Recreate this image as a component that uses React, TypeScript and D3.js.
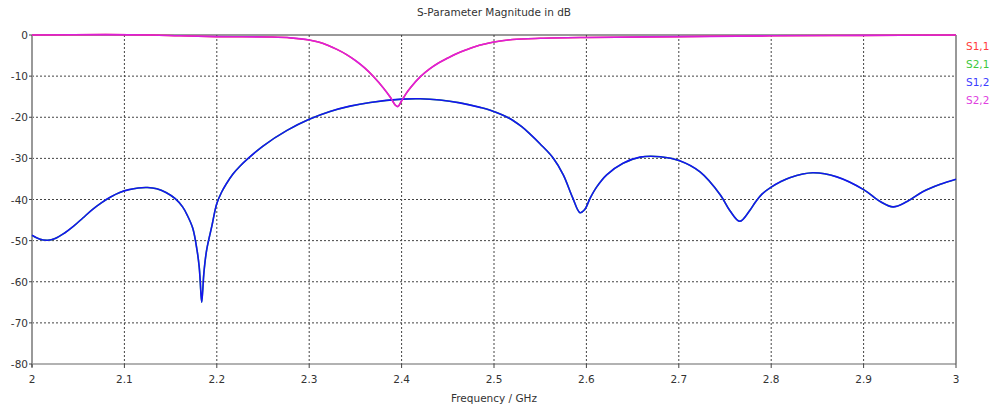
import React from "react";
import * as d3 from "d3";

const freqS12 = [2.0, 2.008, 2.017, 2.025, 2.035, 2.045, 2.055, 2.065, 2.075, 2.085, 2.095, 2.105, 2.115, 2.125, 2.135, 2.145, 2.155, 2.163, 2.168, 2.174, 2.1786, 2.181, 2.182, 2.1836, 2.1848, 2.186, 2.189, 2.1945, 2.2, 2.205, 2.21, 2.2175, 2.225, 2.233, 2.25, 2.276, 2.3, 2.3225, 2.344, 2.366, 2.4, 2.42, 2.4416, 2.463, 2.485, 2.496, 2.517, 2.53, 2.54, 2.55, 2.564, 2.575, 2.585, 2.593, 2.598, 2.604, 2.611, 2.622, 2.6396, 2.658, 2.68, 2.701, 2.723, 2.745, 2.755, 2.766, 2.777, 2.783, 2.79, 2.8, 2.81, 2.82, 2.845, 2.871, 2.9, 2.918, 2.932, 2.947, 2.964, 2.983, 3.0];
const dbS12 = [-48.7, -49.6, -49.9, -49.5, -48.2, -46.5, -44.5, -42.5, -40.8, -39.4, -38.3, -37.6, -37.2, -37.1, -37.4, -38.3, -39.8, -41.8, -43.8, -47.0, -52.3, -56.5, -59.6, -65.0, -62.0, -57.9, -52.3, -46.6, -41.0, -38.3, -36.3, -33.8, -31.9, -30.2, -27.0, -23.2, -20.5, -18.6, -17.3, -16.4, -15.6, -15.5, -15.8, -16.5, -17.6, -18.3, -20.3, -22.3, -24.3, -26.5, -29.9, -34.0, -39.5, -43.2, -42.5, -39.7, -37.0, -34.0, -31.2, -29.7, -29.6, -30.6, -33.3, -38.9, -42.6, -45.3, -42.6, -40.6, -38.7, -37.0, -35.7, -34.7, -33.5, -34.5, -37.6, -40.5, -41.8, -40.5, -38.1, -36.3, -35.1];

const freqS22 = [2.0, 2.08, 2.13, 2.16, 2.2, 2.26, 2.28, 2.3, 2.31, 2.32, 2.33, 2.34, 2.35, 2.36, 2.37, 2.38, 2.388, 2.393, 2.396, 2.4, 2.405, 2.41, 2.42, 2.43, 2.44, 2.45, 2.46, 2.47, 2.48, 2.49, 2.5, 2.52, 2.55, 2.6, 2.7, 2.8, 2.9, 3.0];
const dbS22 = [0, 0.1, 0, -0.2, -0.4, -0.5, -0.7, -1.2, -1.7, -2.5, -3.5, -4.7, -6.2, -8.0, -10.2, -12.8, -15.2, -17.0, -17.4, -16.0, -14.2, -12.7, -10.2, -8.3, -6.8, -5.6, -4.5, -3.6, -2.8, -2.2, -1.7, -1.1, -0.8, -0.6, -0.4, -0.2, -0.1, 0];

const xTicks = [2, 2.1, 2.2, 2.3, 2.4, 2.5, 2.6, 2.7, 2.8, 2.9, 3];
const xTickLabels = ["2", "2.1", "2.2", "2.3", "2.4", "2.5", "2.6", "2.7", "2.8", "2.9", "3"];
const yTicks = [0, -10, -20, -30, -40, -50, -60, -70, -80];
const legendNames = ["S1,1", "S2,1", "S1,2", "S2,2"];
const legendColors = ["#ff3c3c", "#3cc83c", "#3c3cff", "#e040e0"];

export default function App() {
  const W = 995, H = 407;
  const L = 32, R = 956, T = 35, B = 364;
  const x = d3.scaleLinear().domain([2, 3]).range([L, R]);
  const y = d3.scaleLinear().domain([-80, 0]).range([B, T]);
  const line = d3.line<[number, number]>().x((d) => x(d[0])).y((d) => y(d[1])).curve(d3.curveCatmullRom.alpha(0.5));
  const s12 = line(freqS12.map((f, i) => [f, dbS12[i]]) as [number, number][]) || "";
  const s22 = line(freqS22.map((f, i) => [f, dbS22[i]]) as [number, number][]) || "";
  const font = "Tahoma, 'DejaVu Sans', Verdana, sans-serif";
  return (
    <svg width={W} height={H} style={{ position: "absolute", left: 0, top: 0, background: "#fff" }} fontFamily={font}>
      <rect x={0} y={0} width={W} height={H} fill="#fff" />
      <text x={494} y={16} textAnchor="middle" fontSize={10.5} fill="#333">S-Parameter Magnitude in dB</text>
      {xTicks.slice(1, -1).map((t) => (
        <line key={"gx" + t} x1={x(t)} x2={x(t)} y1={T} y2={B} stroke="#444" strokeWidth={1} strokeDasharray="2,2" />
      ))}
      {yTicks.slice(1, -1).map((t) => (
        <line key={"gy" + t} x1={L} x2={R} y1={y(t)} y2={y(t)} stroke="#444" strokeWidth={1} strokeDasharray="2,2" />
      ))}
      <line x1={L} x2={R} y1={T} y2={T} stroke="#333" strokeWidth={1} />
      <line x1={R} x2={R} y1={T} y2={B} stroke="#333" strokeWidth={1} />
      <line x1={L} x2={R} y1={B} y2={B} stroke="#666" strokeWidth={1.2} />
      <line x1={L} x2={L} y1={T} y2={B + 3} stroke="#999" strokeWidth={2} />
      {xTicks.map((t, i) => (
        <g key={"xt" + t}>
          <line x1={x(t)} x2={x(t)} y1={B} y2={B + 4} stroke="#444" />
          <text x={x(t)} y={383} textAnchor="middle" fontSize={10.5} fill="#333">{xTickLabels[i]}</text>
        </g>
      ))}
      {yTicks.map((t) => (
        <g key={"yt" + t}>
          <line x1={L - 3} x2={L} y1={y(t)} y2={y(t)} stroke="#444" />
          <text x={L - 4} y={y(t) + 4} textAnchor="end" fontSize={10.5} fill="#333">{t}</text>
        </g>
      ))}
      <text x={494} y={402} textAnchor="middle" fontSize={10.5} fill="#333">Frequency / GHz</text>
      <path d={s22} fill="none" stroke={legendColors[0]} strokeWidth={1.5} />
      <path d={s12} fill="none" stroke={legendColors[1]} strokeWidth={1.5} />
      <path d={s12} fill="none" stroke="#1414f0" strokeWidth={1.6} />
      <path d={s22} fill="none" stroke="#dc1edc" strokeWidth={1.6} />
      {legendNames.map((n, i) => (
        <text key={n} x={966} y={50 + i * 18} fontSize={10.5} fill={legendColors[i]}>{n}</text>
      ))}
    </svg>
  );
}
